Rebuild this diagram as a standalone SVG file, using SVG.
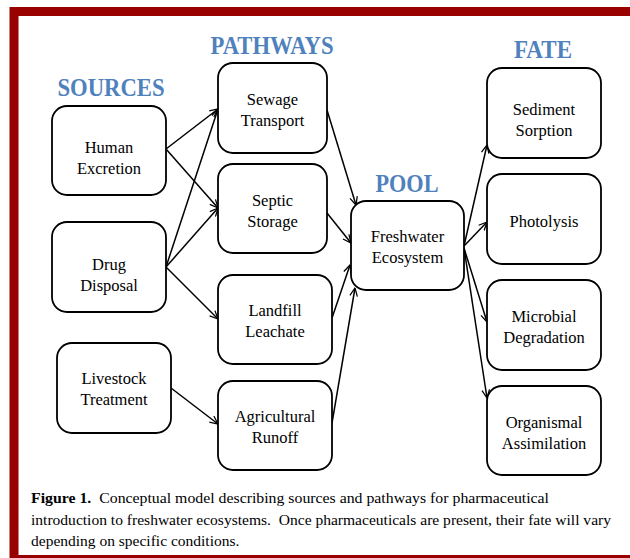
<svg xmlns="http://www.w3.org/2000/svg" width="630" height="558" viewBox="0 0 630 558">
  <defs>
    <marker id="arrow" viewBox="0 0 10 10" refX="9.5" refY="5" markerWidth="9" markerHeight="9" markerUnits="userSpaceOnUse" orient="auto">
      <path d="M0.5,0.8 L9.5,5 L0.5,9.2" fill="none" stroke="#000" stroke-width="1.4"/>
    </marker>
  </defs>
  <style>
    .box { fill: #fff; stroke: #000; stroke-width: 1.8; }
    .lbl { font-size: 16.5px; fill: #000; text-anchor: middle; }
    .hdr { font-size: 25px; font-weight: bold; fill: #4f81bd; text-anchor: middle; }
    .cap { font-size: 15.5px; fill: #000; }
    .edge { fill: none; stroke: #000; stroke-width: 1.5; marker-end: url(#arrow); }
  </style>

  <rect x="0" y="0" width="630" height="558" fill="#fff"/>
  <!-- frame -->
  <rect x="14" y="11.5" width="630" height="548" fill="none" stroke="#990000" stroke-width="9"/>

  <g font-family="Liberation Serif, DejaVu Serif, serif">
  <!-- column headings -->
  <text class="hdr" x="111" y="96" textLength="107" lengthAdjust="spacingAndGlyphs">SOURCES</text>
  <text class="hdr" x="272" y="54" textLength="123" lengthAdjust="spacingAndGlyphs">PATHWAYS</text>
  <text class="hdr" x="407" y="192" textLength="63" lengthAdjust="spacingAndGlyphs">POOL</text>
  <text class="hdr" x="543" y="58" textLength="58" lengthAdjust="spacingAndGlyphs">FATE</text>

  <!-- connectors -->
  <g id="connectors">
    <line class="edge" x1="166" y1="149" x2="218" y2="109"/>
    <line class="edge" x1="166" y1="149" x2="218" y2="208"/>
    <line class="edge" x1="166" y1="267" x2="218" y2="109"/>
    <line class="edge" x1="166" y1="267" x2="218" y2="208"/>
    <line class="edge" x1="166" y1="267" x2="218" y2="319"/>
    <line class="edge" x1="171" y1="388" x2="218" y2="424"/>
    <line class="edge" x1="327" y1="110" x2="356" y2="205"/>
    <line class="edge" x1="327" y1="213" x2="351" y2="243"/>
    <line class="edge" x1="332" y1="318" x2="350" y2="265"/>
    <line class="edge" x1="332" y1="423" x2="355" y2="288"/>
    <line class="edge" x1="464" y1="246" x2="487" y2="145"/>
    <line class="edge" x1="464" y1="246" x2="487" y2="222"/>
    <line class="edge" x1="464" y1="248" x2="487" y2="322"/>
    <line class="edge" x1="464" y1="248" x2="487" y2="398"/>
  </g>

  <!-- sources -->
  <g id="human-excretion">
    <rect class="box" x="52" y="106" width="114" height="89" rx="15"/>
    <text class="lbl" x="109" y="153">Human</text>
    <text class="lbl" x="109" y="174">Excretion</text>
  </g>
  <g id="drug-disposal">
    <rect class="box" x="52" y="222" width="114" height="90" rx="15"/>
    <text class="lbl" x="109" y="270">Drug</text>
    <text class="lbl" x="109" y="291">Disposal</text>
  </g>
  <g id="livestock-treatment">
    <rect class="box" x="57" y="343" width="114" height="90" rx="15"/>
    <text class="lbl" x="114" y="384">Livestock</text>
    <text class="lbl" x="114" y="405">Treatment</text>
  </g>

  <!-- pathways -->
  <g id="sewage-transport">
    <rect class="box" x="218" y="63" width="109" height="90" rx="15"/>
    <text class="lbl" x="272.5" y="105">Sewage</text>
    <text class="lbl" x="272.5" y="126">Transport</text>
  </g>
  <g id="septic-storage">
    <rect class="box" x="218" y="164" width="109" height="89" rx="15"/>
    <text class="lbl" x="272.5" y="206">Septic</text>
    <text class="lbl" x="272.5" y="227">Storage</text>
  </g>
  <g id="landfill-leachate">
    <rect class="box" x="218" y="275" width="114" height="89" rx="15"/>
    <text class="lbl" x="275" y="316">Landfill</text>
    <text class="lbl" x="275" y="337">Leachate</text>
  </g>
  <g id="agricultural-runoff">
    <rect class="box" x="218" y="381" width="114" height="89" rx="15"/>
    <text class="lbl" x="275" y="422">Agricultural</text>
    <text class="lbl" x="275" y="443">Runoff</text>
  </g>

  <!-- pool -->
  <g id="freshwater-ecosystem">
    <rect class="box" x="351" y="201" width="113" height="89" rx="15"/>
    <text class="lbl" x="407.5" y="242">Freshwater</text>
    <text class="lbl" x="407.5" y="263">Ecosystem</text>
  </g>

  <!-- fate -->
  <g id="sediment-sorption">
    <rect class="box" x="487" y="68" width="114" height="90" rx="15"/>
    <text class="lbl" x="544" y="115">Sediment</text>
    <text class="lbl" x="544" y="136">Sorption</text>
  </g>
  <g id="photolysis">
    <rect class="box" x="487" y="174" width="114" height="90" rx="15"/>
    <text class="lbl" x="544" y="227">Photolysis</text>
  </g>
  <g id="microbial-degradation">
    <rect class="box" x="487" y="280" width="114" height="90" rx="15"/>
    <text class="lbl" x="544" y="322">Microbial</text>
    <text class="lbl" x="544" y="343">Degradation</text>
  </g>
  <g id="organismal-assimilation">
    <rect class="box" x="487" y="386" width="114" height="89" rx="15"/>
    <text class="lbl" x="544" y="428">Organismal</text>
    <text class="lbl" x="544" y="449">Assimilation</text>
  </g>

  <!-- caption -->
  <text class="cap" x="31" y="503" textLength="518" lengthAdjust="spacingAndGlyphs" xml:space="preserve"><tspan font-weight="bold">Figure 1.</tspan>  Conceptual model describing sources and pathways for pharmaceutical</text>
  <text class="cap" x="31" y="525" textLength="580" lengthAdjust="spacingAndGlyphs" xml:space="preserve">introduction to freshwater ecosystems.  Once pharmaceuticals are present, their fate will vary</text>
  <text class="cap" x="31" y="546">depending on specific conditions.</text>
  </g>
</svg>
